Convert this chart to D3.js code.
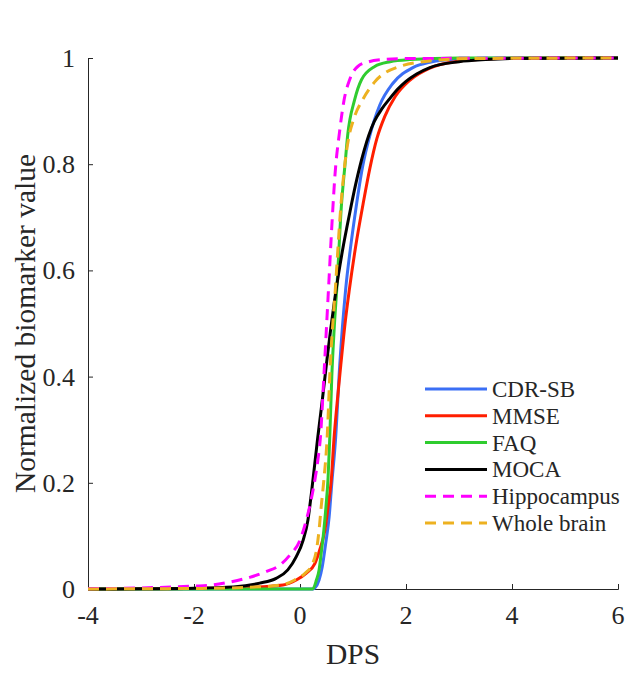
<!DOCTYPE html>
<html>
<head>
<meta charset="utf-8">
<script src="https://cdn.jsdelivr.net/npm/d3@7"></script>
<style>
  body { margin: 0; background: #fff; }
  text { font-family: "Liberation Serif", "Times New Roman", serif; fill: #262626; }
</style>
</head>
<body>
<div class="vis-container"></div>
<script>
// DPS values and normalized biomarker values
const seriesNames = ['CDR-SB', 'MMSE', 'FAQ', 'MOCA', 'Hippocampus', 'Whole brain'];

const cdrsb = [[-4, 0], [0, 0], [0.25, 0], [0.28, 0.002], [0.36, 0.017], [0.42, 0.042], [0.485, 0.086],
  [0.55, 0.136], [0.60, 0.199], [0.67, 0.281], [0.75, 0.422], [0.86, 0.563], [0.96, 0.648], [1.06, 0.72],
  [1.18, 0.795], [1.32, 0.855], [1.5, 0.91], [1.75, 0.952], [2.13, 0.982], [2.45, 0.992], [3, 0.998], [4, 1], [6, 1]];
const mmse = [[-4, 0], [-3, 0.0003], [-2, 0.001], [-1, 0.003], [-0.32, 0.0075], [-0.07, 0.017], [0.12, 0.03],
  [0.28, 0.048], [0.37, 0.073], [0.47, 0.111], [0.53, 0.155], [0.59, 0.205], [0.64, 0.281], [0.70, 0.35],
  [0.77, 0.422], [0.85, 0.5], [0.93, 0.563], [1.05, 0.645], [1.19, 0.725], [1.32, 0.793], [1.45, 0.848],
  [1.6, 0.89], [1.8, 0.928], [2.07, 0.958], [2.45, 0.981], [3, 0.994], [3.5, 0.998], [4, 0.9995], [6, 1]];
const faq = [[-4, 0], [0, 0], [0.24, 0], [0.31, 0.017], [0.36, 0.036], [0.40, 0.067], [0.45, 0.111],
  [0.49, 0.155], [0.53, 0.21], [0.56, 0.281], [0.60, 0.40], [0.645, 0.49], [0.70, 0.575], [0.78, 0.72],
  [0.85, 0.8], [0.90, 0.855], [1.03, 0.921], [1.16, 0.959], [1.41, 0.984], [1.7, 0.993], [2.07, 0.997],
  [3, 1], [6, 1]];
const moca = [[-4, 0], [-3, 0.0005], [-2, 0.0015], [-1.26, 0.004], [-0.76, 0.011], [-0.45, 0.02],
  [-0.23, 0.036], [-0.07, 0.061], [0.06, 0.092], [0.15, 0.13], [0.215, 0.18], [0.33, 0.281], [0.42, 0.355],
  [0.51, 0.433], [0.58, 0.49], [0.65, 0.542], [0.73, 0.595], [0.81, 0.642], [0.89, 0.684], [0.97, 0.724],
  [1.05, 0.762], [1.13, 0.796], [1.21, 0.826], [1.3, 0.855], [1.4, 0.88], [1.55, 0.905], [1.69, 0.923],
  [1.85, 0.942], [2.0, 0.956], [2.2, 0.97], [2.45, 0.982], [3, 0.993], [3.5, 0.997], [4, 0.999], [6, 1]];
const hippocampus = [[-4, 0.0005], [-3, 0.002], [-2, 0.0055], [-1.7, 0.007], [-1.33, 0.013], [-0.95, 0.022],
  [-0.63, 0.033], [-0.38, 0.045], [-0.19, 0.064], [0, 0.092], [0.12, 0.13], [0.21, 0.168], [0.28, 0.205],
  [0.34, 0.245], [0.385, 0.285], [0.45, 0.40], [0.53, 0.55], [0.61, 0.70], [0.66, 0.78], [0.745, 0.86],
  [0.83, 0.92], [0.94, 0.96], [1.09, 0.984], [1.3, 0.993], [1.56, 0.997], [2, 0.999], [6, 1]];
const wholeBrain = [[-4, 0], [-3, 0.0005], [-2, 0.001], [-1, 0.003], [-0.35, 0.0075], [-0.1, 0.017],
  [0.1, 0.03], [0.24, 0.048], [0.31, 0.073], [0.36, 0.111], [0.40, 0.155], [0.45, 0.205], [0.51, 0.281],
  [0.57, 0.42], [0.67, 0.57], [0.77, 0.72], [0.84, 0.795], [0.92, 0.85], [1.02, 0.887], [1.18, 0.921],
  [1.41, 0.955], [1.88, 0.984], [2.5, 0.995], [3.2, 0.999], [6, 1]];

const xTicks = [-4, -2, 0, 2, 4, 6];
const yTicks = [0, 0.2, 0.4, 0.6, 0.8, 1];

const seriesData = [cdrsb, mmse, faq, moca, hippocampus, wholeBrain];
const seriesColors = ['#3b6ff5', '#ff1e00', '#2fcc2f', '#000000', '#ff00ff', '#edb120'];
const seriesDashed = [false, false, false, false, true, true];

document.addEventListener('DOMContentLoaded', () => {
  buildChart();
});

function buildChart() {
  const width = 638;
  const height = 675;
  const margin = {left: 88, right: 20, top: 58, bottom: 86};

  const svg = d3.select('.vis-container').append('svg')
    .attr('width', width)
    .attr('height', height);

  const x = d3.scaleLinear().domain([-4, 6]).range([margin.left, width - margin.right]);
  const y = d3.scaleLinear().domain([0, 1]).range([height - margin.bottom, margin.top]);

  // axes, ticks pointing inward like matlab
  const xAxis = svg.append('g')
    .attr('transform', `translate(0, ${y(0)})`)
    .call(d3.axisTop(x).tickValues(xTicks).tickSize(5).tickFormat(''));
  const yAxis = svg.append('g')
    .attr('transform', `translate(${x(-4)}, 0)`)
    .call(d3.axisRight(y).tickValues(yTicks).tickSize(5).tickFormat(''));
  [xAxis, yAxis].forEach(g => {
    g.select('.domain').attr('stroke', '#262626').attr('stroke-width', 1);
    g.selectAll('.tick line').attr('stroke', '#262626').attr('stroke-width', 1);
  });

  svg.selectAll('.x-label').data(xTicks)
    .enter().append('text')
      .attr('class', 'x-label')
      .attr('x', d => x(d))
      .attr('y', y(0) + 35)
      .attr('text-anchor', 'middle')
      .style('font-size', '26px')
      .text(d => d);

  svg.selectAll('.y-label').data(yTicks)
    .enter().append('text')
      .attr('class', 'y-label')
      .attr('x', x(-4) - 13)
      .attr('y', d => y(d) + 9)
      .attr('text-anchor', 'end')
      .style('font-size', '26px')
      .text(d => d);

  svg.append('text')
    .attr('x', (x(-4) + x(6)) / 2)
    .attr('y', 664)
    .attr('text-anchor', 'middle')
    .style('font-size', '29.5px')
    .text('DPS');

  svg.append('text')
    .attr('transform', `translate(35, ${(y(0) + y(1)) / 2}) rotate(-90)`)
    .attr('text-anchor', 'middle')
    .style('font-size', '29.5px')
    .text('Normalized biomarker value');

  const line = d3.line()
    .x(d => x(d[0]))
    .y(d => y(d[1]))
    .curve(d3.curveMonotoneX);

  svg.selectAll('.curve').data(seriesData)
    .enter().append('path')
      .attr('class', 'curve')
      .attr('d', d => line(d))
      .attr('fill', 'none')
      .attr('stroke', (d, i) => seriesColors[i])
      .attr('stroke-width', 3)
      .attr('stroke-dasharray', (d, i) => seriesDashed[i] ? '11,7' : null);

  // legend
  const legend = svg.append('g').attr('transform', 'translate(425, 389)');
  const rowH = 26.8;
  seriesNames.forEach((name, i) => {
    legend.append('line')
      .attr('x1', 0)
      .attr('x2', 62)
      .attr('y1', i * rowH)
      .attr('y2', i * rowH)
      .attr('stroke', seriesColors[i])
      .attr('stroke-width', 3)
      .attr('stroke-dasharray', seriesDashed[i] ? '11,7' : null);
    legend.append('text')
      .attr('x', 67)
      .attr('y', i * rowH + 8)
      .style('font-size', '23px')
      .text(name);
  });
}
</script>
</body>
</html>
